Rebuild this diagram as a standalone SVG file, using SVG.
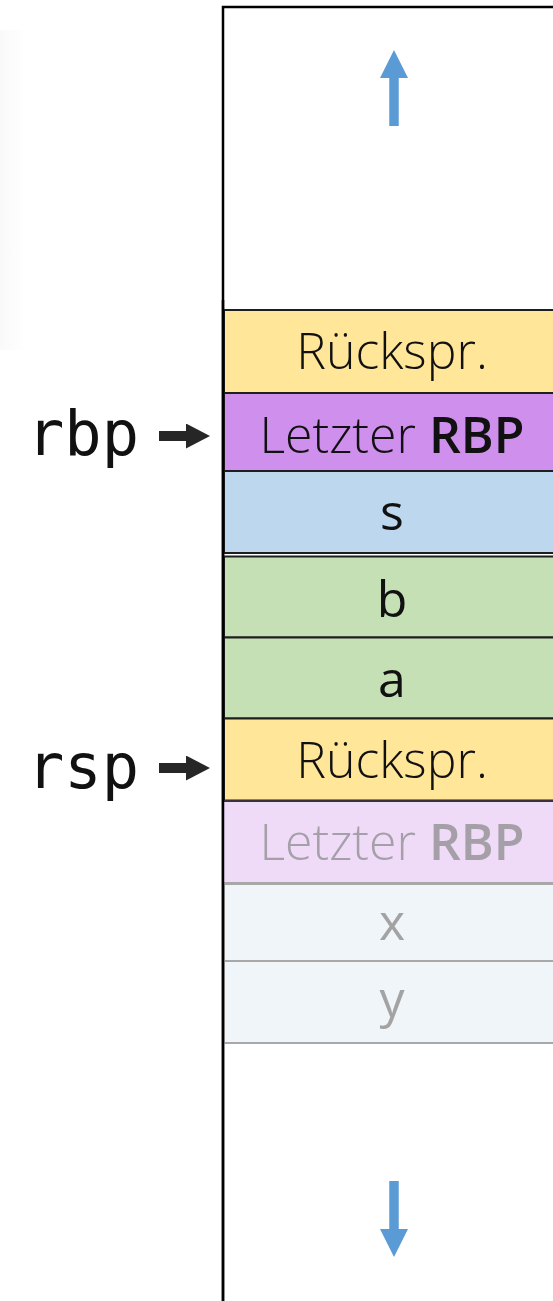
<svg xmlns="http://www.w3.org/2000/svg" width="553" height="1301" viewBox="0 0 553 1301">
  <defs>
    <marker id="ptr" markerUnits="userSpaceOnUse" markerWidth="24" markerHeight="26" refX="0" refY="12.5" orient="auto">
      <path d="M0,0 L24,12.5 L0,25 Z" fill="#262626"/>
    </marker>
    <marker id="dir" markerUnits="userSpaceOnUse" markerWidth="28" markerHeight="29" refX="0" refY="14" orient="auto">
      <path d="M0,0 L28,14 L0,28 Z" fill="#5B9BD5"/>
    </marker>
    <linearGradient id="shade" x1="0" y1="0" x2="1" y2="0">
      <stop offset="0" stop-color="#f9f9f9"/>
      <stop offset="1" stop-color="#ffffff"/>
    </linearGradient>
  </defs>
  <style>
    .cell { stroke: #1e1e1e; stroke-width: 2; }
    .faded { stroke: #a8a8a8; stroke-width: 2; }
    .lbl { font-family: "Open Sans", "Noto Sans", "Liberation Sans", sans-serif; font-size: 50px; font-weight: 300; text-anchor: middle; fill: #111; }
    .var { font-family: "Open Sans", "Noto Sans", "Liberation Sans", sans-serif; font-size: 50px; font-weight: 500; text-anchor: middle; fill: #111; }
    .b { font-weight: 600; }
    .dim { fill: #a59fa8; }
    .dimv { fill: #a3a3a3; }
    .reg { font-family: "DejaVu Sans Mono", "Liberation Mono", monospace; font-size: 62px; fill: #111; }
    .conn { stroke: #262626; stroke-width: 10; fill: none; }
    .grow { stroke: #5B9BD5; stroke-width: 9.5; fill: none; }
  </style>

  <rect width="553" height="1301" fill="#ffffff"/>
  <rect x="0" y="30" width="26" height="320" fill="url(#shade)"/>

  <!-- stack frame -->
  <g id="stack">
    <path d="M223,1301 L223,7 L553,7" fill="none" stroke="#000" stroke-width="2.5"/>
  </g>

  <!-- growth direction -->
  <g id="growth">
    <line class="grow" x1="394" y1="126" x2="394" y2="78" marker-end="url(#dir)"/>
    <line class="grow" x1="394" y1="1181" x2="394" y2="1229" marker-end="url(#dir)"/>
  </g>

  <g id="ret1">
    <rect class="cell" x="224" y="310" width="340" height="83" fill="#FFE699"/>
    <text class="lbl" x="392" y="369">Rückspr.</text>
  </g>
  <g id="rbp1">
    <rect class="cell" x="224" y="393" width="340" height="78" fill="#CF8FED"/>
    <text class="lbl" x="392" y="453">Letzter <tspan class="b">RBP</tspan></text>
  </g>
  <g id="s">
    <rect class="cell" x="224" y="471" width="340" height="82" fill="#BDD7EE"/>
    <text class="var" x="392" y="530">s</text>
  </g>
  <g id="b">
    <rect class="cell" x="224" y="556.5" width="340" height="81" fill="#C5E0B4"/>
    <text class="var" x="392" y="617">b</text>
  </g>
  <g id="a">
    <rect class="cell" x="224" y="637.5" width="340" height="81" fill="#C5E0B4"/>
    <text class="var" x="392" y="697">a</text>
  </g>
  <g id="ret2">
    <rect class="cell" x="224" y="718.5" width="340" height="82" fill="#FFE699"/>
    <text class="lbl" x="392" y="778">Rückspr.</text>
  </g>
  <g id="rbp2">
    <rect x="224" y="801" width="340" height="82" fill="#EFDAF8"/>
    <line x1="224" y1="801" x2="553" y2="801" stroke="#3a313b" stroke-width="2"/>
    <line x1="224" y1="883" x2="553" y2="883" stroke="#a8a8a8" stroke-width="2"/>
    <text class="lbl dim" x="392" y="860">Letzter <tspan class="b">RBP</tspan></text>
  </g>
  <g id="x">
    <rect class="faded" x="224" y="884" width="340" height="77" fill="#F0F5FA"/>
    <text class="var dimv" x="392" y="940" style="font-weight:400">x</text>
  </g>
  <g id="y">
    <rect class="faded" x="224" y="961" width="340" height="82" fill="#F0F5FA" stroke="#c4c8cc"/>
    <text class="var dimv" x="392" y="1017" style="font-weight:400">y</text>
  </g>
  <line x1="224" y1="961" x2="553" y2="961" stroke="#a8a8a8" stroke-width="2"/>
  <path d="M223,300 L223,1301" stroke="#000" stroke-width="2.5"/>

  <g id="reg-rbp">
    <text class="reg" x="27" y="455">rbp</text>
  </g>
  <g id="reg-rsp">
    <text class="reg" x="27" y="788">rsp</text>
  </g>

  <g id="connectors">
    <line class="conn" x1="159" y1="436" x2="186" y2="436" marker-end="url(#ptr)"/>
    <line class="conn" x1="159" y1="768" x2="186" y2="768" marker-end="url(#ptr)"/>
  </g>
</svg>
